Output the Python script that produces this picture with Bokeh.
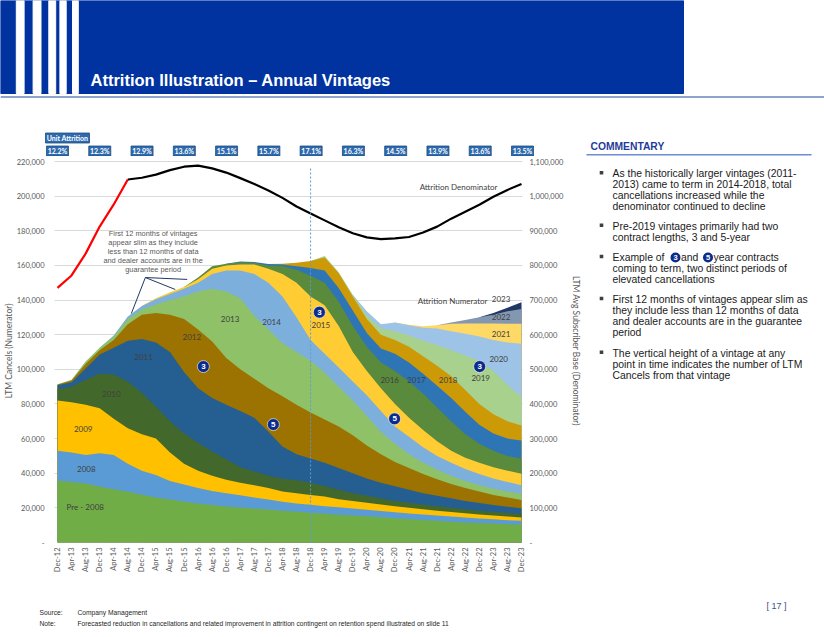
import numpy as np
from bokeh.plotting import figure
from bokeh.models import Range1d, LinearAxis, FixedTicker, NumeralTickFormatter
from bokeh.layouts import column, row
from bokeh.embed import file_html
from bokeh.resources import INLINE
from bokeh.core.properties import value

# ---------------------------------------------------------------- data
tick_labels = ["Dec-12", "Apr-13", "Aug-13", "Dec-13", "Apr-14", "Aug-14", "Dec-14", "Apr-15",
               "Aug-15", "Dec-15", "Apr-16", "Aug-16", "Dec-16", "Apr-17", "Aug-17", "Dec-17",
               "Apr-18", "Aug-18", "Dec-18", "Apr-19", "Aug-19", "Dec-19", "Apr-20", "Aug-20",
               "Dec-20", "Apr-21", "Aug-21", "Dec-21", "Apr-22", "Aug-22", "Dec-22", "Apr-23",
               "Aug-23", "Dec-23"]
month_index = [0, 4, 8, 12, 16, 20, 24, 28, 32, 36, 40, 44, 48, 52, 56, 60, 64, 68, 72, 76,
               80, 84, 88, 92, 96, 100, 104, 108, 112, 116, 120, 124, 128, 132]

# LTM cancels: top of each vintage's band in the stack (thousands), read at each tick
stack_top_pre2008 = [35.8, 35.0, 34.0, 32.2, 30.8, 29.3, 27.6, 26.0, 24.8, 23.6, 22.5, 21.6, 20.8, 20.2,
                     19.7, 19.0, 18.4, 17.8, 17.2, 16.6, 16.0, 15.6, 15.1, 14.6, 14.0, 13.5, 13.0, 12.5,
                     12.0, 11.6, 11.2, 10.9, 10.6, 10.3]
stack_top_2008 = [53.0, 52.0, 50.5, 51.5, 50.5, 45.5, 41.5, 39.0, 35.5, 33.5, 31.5, 29.8, 28.5, 27.3,
                  26.0, 24.8, 23.5, 22.5, 21.8, 21.0, 20.3, 19.6, 18.9, 18.2, 17.5, 16.8, 16.2, 15.6,
                  15.0, 14.4, 13.9, 13.4, 12.9, 12.5]
stack_top_2009 = [82.0, 81.0, 79.5, 77.5, 71.5, 66.0, 62.5, 60.0, 52.0, 45.5, 41.5, 38.5, 36.3, 34.5,
                  33.0, 31.5, 29.5, 28.5, 27.5, 26.5, 25.0, 24.0, 23.0, 22.0, 21.0, 20.0, 19.2, 18.4,
                  17.6, 16.9, 16.2, 15.6, 15.0, 14.5]
stack_top_2010 = [88.5, 90.0, 94.0, 97.5, 97.0, 93.0, 86.5, 78.5, 70.0, 63.0, 57.5, 52.5, 48.0, 43.5,
                  41.0, 38.5, 36.8, 36.0, 34.5, 32.5, 30.5, 28.5, 27.0, 25.5, 24.0, 23.0, 22.0, 21.0,
                  20.0, 19.2, 18.4, 17.7, 17.0, 16.5]
stack_top_2011 = [90.8, 92.5, 100.5, 108.5, 112.5, 116.5, 117.5, 115.5, 110.0, 98.5, 89.0, 83.5, 79.5,
                  76.0, 72.0, 64.0, 55.5, 51.0, 48.5, 46.0, 43.0, 40.0, 37.0, 34.5, 32.5, 30.5, 28.5,
                  27.0, 25.5, 24.0, 22.8, 21.7, 20.7, 19.8]
stack_top_2012 = [91.3, 93.5, 103.0, 111.0, 117.0, 126.0, 131.5, 132.5, 131.5, 129.0, 123.0, 116.0,
                  106.5, 100.0, 94.5, 89.0, 84.5, 79.5, 75.0, 71.0, 67.0, 62.0, 56.0, 51.0, 46.5, 43.0,
                  39.5, 36.5, 33.8, 31.5, 29.5, 27.5, 26.0, 24.5]
stack_top_2013 = [91.3, 94.0, 104.5, 112.5, 119.0, 129.0, 134.5, 137.5, 140.0, 142.0, 145.0, 146.5,
                  145.0, 141.0, 131.0, 123.0, 115.0, 110.0, 105.0, 98.0, 90.0, 82.0, 73.0, 64.0, 57.0,
                  51.0, 46.0, 42.0, 38.5, 35.5, 33.0, 31.0, 29.5, 28.0]
stack_top_2014 = [112.5, 119.5, 130.5, 136.5, 140.5, 143.5, 146.5, 150.0, 155.0, 157.0, 157.0, 155.0,
                  150.0, 142.0, 130.0, 117.0, 109.0, 101.0, 93.0, 85.0, 76.0, 67.0, 61.0, 55.0, 50.0,
                  46.0, 42.5, 39.5, 37.0, 35.0, 33.0]
stack_top_2015 = [136.5, 141.0, 144.5, 147.5, 152.0, 158.0, 160.0, 160.5, 160.5, 158.0, 155.0, 150.0,
                  142.0, 137.0, 125.0, 110.0, 99.0, 89.0, 80.0, 72.0, 65.0, 58.5, 53.0, 49.0, 46.0,
                  43.5, 41.5, 39.7]
stack_top_2016 = [147.5, 153.0, 159.5, 161.0, 161.8, 161.5, 160.0, 159.5, 157.5, 154.0, 150.0, 139.0,
                  125.0, 113.0, 104.0, 99.0, 93.0, 86.0, 78.0, 70.0, 62.5, 57.0, 53.0, 50.0, 48.3]
stack_top_2017 = [161.0, 162.3, 162.0, 160.8, 160.5, 159.5, 158.5, 157.0, 147.0, 134.0, 121.0, 112.0,
                  109.0, 104.0, 97.5, 90.5, 83.5, 75.5, 68.0, 63.0, 60.0, 58.9]
stack_top_2018 = [160.8, 161.0, 161.5, 162.5, 164.5, 155.5, 142.0, 129.0, 120.0, 117.0, 113.0, 107.5,
                  102.0, 96.0, 88.0, 80.0, 74.0, 70.0, 67.6]
stack_top_2019 = [162.5, 165.5, 156.0, 143.0, 131.0, 123.5, 122.0, 119.5, 116.5, 114.0, 111.0, 108.0,
                  105.0, 99.0, 91.0, 84.0]
stack_top_2020 = [143.0, 133.5, 126.0, 127.0, 125.5, 124.0, 123.5, 122.0, 120.5, 119.0, 117.0, 115.5,
                  114.7]
stack_top_2021 = [127.0, 125.8, 124.8, 125.5, 126.3, 126.5, 126.5, 126.5, 126.3, 126.3]
stack_top_2022 = [125.5, 127.0, 128.5, 130.0, 131.5, 133.5, 134.9]
stack_top_2023 = [130.0, 132.5, 135.5, 138.7]

vintage_names = ["Pre-2008", "2008", "2009", "2010", "2011", "2012", "2013", "2014", "2015", "2016",
                 "2017", "2018", "2019", "2020", "2021", "2022", "2023"]
vintage_first_tick = ["Dec-12", "Dec-12", "Dec-12", "Dec-12", "Dec-12", "Dec-12", "Dec-12", "Dec-13",
                      "Dec-14", "Dec-15", "Dec-16", "Dec-17", "Dec-18", "Dec-19", "Dec-20", "Dec-21",
                      "Dec-22"]

# LTM average subscriber base (thousands): history in red, forecast in black
denominator_hist = [735, 771, 834, 912, 976, 1048]
denominator_hist_start = "Dec-12"
denominator_fcst = [1048, 1053, 1062, 1075, 1085, 1088, 1080, 1068, 1052, 1035, 1016, 995, 970, 950,
                    930, 910, 893, 881, 876, 878, 882, 895, 912, 935, 955, 975, 998, 1018, 1035]
denominator_fcst_start = "Aug-14"

attrition_ticks = ["Dec-12", "Dec-13", "Dec-14", "Dec-15", "Dec-16", "Dec-17", "Dec-18", "Dec-19",
                   "Dec-20", "Dec-21", "Dec-22", "Dec-23"]
unit_attrition = ["12.2%", "12.3%", "12.9%", "13.6%", "15.1%", "15.7%", "17.1%", "16.3%", "14.5%",
                  "13.9%", "13.6%", "13.5%"]

# ---------------------------------------------------------------- styles / geometry
colors = ["#70AD47", "#5B9BD5", "#FFC000", "#43682B", "#255E91", "#9C7300", "#8FC268", "#7DAFDD",
          "#FFCD33", "#5A8A3C", "#2E75B6", "#CC9A06", "#A9D18E", "#9DC3E6", "#FFD966", "#8497B0",
          "#203864"]
stack_tops = [stack_top_pre2008, stack_top_2008, stack_top_2009, stack_top_2010, stack_top_2011,
              stack_top_2012, stack_top_2013, stack_top_2014, stack_top_2015, stack_top_2016,
              stack_top_2017, stack_top_2018, stack_top_2019, stack_top_2020, stack_top_2021,
              stack_top_2022, stack_top_2023]
K = 1000
CF = "Lato"
SF = "Liberation Sans"
GRAY = "#595959"

PAGE_W = 824
HEAD_H = 156
MID_H = 434
FOOT_H = 47
CHART_W = 584
FRAME_L, FRAME_R = 54, 525          # pixel edges of the plot frame
FRAME_T, FRAME_B = 159, 542
FIRST_TICK_PX, LAST_TICK_PX = 57, 522
px_per_month = (LAST_TICK_PX - FIRST_TICK_PX) / (month_index[-1] - month_index[0])
x_start = (FRAME_L - FIRST_TICK_PX) / px_per_month
x_end = (FRAME_R - FIRST_TICK_PX) / px_per_month
px_per_unit = (FRAME_B - 161) / 220000.0     # 220,000 gridline sits at y=161
y_end = (FRAME_B - FRAME_T) / px_per_unit


def months_from(label):
    return month_index[tick_labels.index(label):]


# ---------------------------------------------------------------- chart
p = figure(width=CHART_W, height=MID_H, x_range=Range1d(x_start, x_end), y_range=Range1d(0, y_end),
           output_backend="svg", toolbar_location=None,
           min_border_left=FRAME_L, min_border_right=CHART_W - FRAME_R,
           min_border_top=FRAME_T - HEAD_H, min_border_bottom=HEAD_H + MID_H - FRAME_B)
p.outline_line_color = None
p.background_fill_color = "white"
p.border_fill_color = "white"
p.xgrid.visible = False
p.ygrid.grid_line_color = "#D9D9D9"
p.ygrid.grid_line_width = 1
try:
    p.ygrid.cross_bounds = ((53 - FIRST_TICK_PX) / px_per_month, (523 - FIRST_TICK_PX) / px_per_month)
except Exception:
    pass

# stacked vintages: paint from the top layer down so each band shows between neighbours
for name, start, tops, col in reversed(list(zip(vintage_names, vintage_first_tick, stack_tops, colors))):
    p.varea(x=months_from(start), y1=0, y2=[v * K for v in tops], fill_color=col)

p.extra_y_ranges = {"den": Range1d(0, y_end * 5)}
p.line(months_from(denominator_hist_start)[:len(denominator_hist)], [v * K for v in denominator_hist],
       y_range_name="den", line_color="#FF0000", line_width=2.2)
p.line(months_from(denominator_fcst_start), [v * K for v in denominator_fcst],
       y_range_name="den", line_color="black", line_width=2.2)

# Dec-18 marker
dec18 = month_index[tick_labels.index("Dec-18")]
p.segment(x0=[dec18], y0=[0], x1=[dec18], y1=[217000], line_color="#5B9BD5", line_width=1,
          line_dash="2 2")

# axes
p.xaxis.ticker = FixedTicker(ticks=month_index)
p.xaxis.major_label_overrides = {m: t for m, t in zip(month_index, tick_labels)}
p.xaxis.major_label_orientation = np.pi / 2
p.xaxis.major_label_text_font = CF
p.xaxis.major_label_text_font_size = "7.5px"
p.xaxis.major_label_text_color = GRAY
p.xaxis.axis_line_color = None
p.xaxis.major_tick_line_color = None
p.xaxis.minor_tick_line_color = None
p.xaxis.major_tick_out = 0
p.xaxis.major_tick_in = 0
p.xaxis.major_label_standoff = 5

left_ticks = [0, 20000, 40000, 60000, 80000, 100000, 120000, 140000, 160000, 180000, 200000, 220000]
p.yaxis.ticker = FixedTicker(ticks=left_ticks)
p.yaxis.formatter = NumeralTickFormatter(format="0,0")
p.yaxis.major_label_overrides = {0: "-"}
p.yaxis.major_label_text_font = CF
p.yaxis.major_label_text_font_size = "7.5px"
p.yaxis.major_label_text_color = GRAY
p.yaxis.axis_line_color = None
p.yaxis.major_tick_line_color = None
p.yaxis.minor_tick_line_color = None
p.yaxis.major_tick_out = 0
p.yaxis.major_tick_in = 0
p.yaxis.major_label_standoff = 10
p.yaxis.axis_label = "LTM Cancels (Numerator)"
p.yaxis.axis_label_text_font = CF
p.yaxis.axis_label_text_font_size = "8.5px"
p.yaxis.axis_label_text_font_style = "normal"
p.yaxis.axis_label_text_color = GRAY
p.yaxis.axis_label_standoff = 0

right_ticks = [0, 100000, 200000, 300000, 400000, 500000, 600000, 700000, 800000, 900000, 1000000, 1100000]
ax_r = LinearAxis(y_range_name="den", ticker=FixedTicker(ticks=right_ticks),
                  formatter=NumeralTickFormatter(format="0,0"))
ax_r.major_label_overrides = {0: "-"}
ax_r.major_label_text_font = CF
ax_r.major_label_text_font_size = "7.5px"
ax_r.major_label_text_color = GRAY
ax_r.axis_line_color = None
ax_r.major_tick_line_color = None
ax_r.minor_tick_line_color = None
ax_r.major_tick_out = 0
ax_r.major_tick_in = 0
ax_r.major_label_standoff = 5
ax_r.axis_label = "LTM Avg Subscriber Base (Denominator)"
ax_r.axis_label_text_font = CF
ax_r.axis_label_text_font_size = "8.5px"
ax_r.axis_label_text_font_style = "normal"
ax_r.axis_label_text_color = GRAY
ax_r.axis_label_standoff = 5
p.add_layout(ax_r, "right")

# vintage labels
vl_text = ["Pre - 2008", "2008", "2009", "2010", "2011", "2012", "2013", "2014", "2015", "2016", "2017",
           "2018", "2019", "2020", "2021", "2022", "2023"]
vl_x = [7.9, 8.2, 7.3, 15.3, 24.5, 38.2, 49.1, 60.9, 74.9, 94.5, 102.1, 111.1, 120.4, 125.5, 126.2, 126.2, 126.2]
vl_y = [20.4, 42.2, 65.6, 85.9, 107.0, 118.9, 129.2, 127.6, 125.7, 94.1, 94.1, 94.1, 94.9, 105.7, 120.5,
        130.1, 140.5]
p.text(x=vl_x, y=[v * K for v in vl_y], text=vl_text, text_font=value(CF), text_font_size="8px",
       text_color="#404040", text_align="center", text_baseline="middle")

p.text(x=[114.1, 112.4], y=[205200, 139700], text=["Attrition Denominator", "Attrition Numerator"],
       text_font=value(CF), text_font_size="8px", text_color="#404040", text_align="center",
       text_baseline="middle")

# contract-term badges
badge_x = [41.5, 61.4, 74.5, 95.9, 120.1]
badge_y = [101.6, 68.1, 133.0, 71.4, 101.6]
badge_t = ["3", "5", "3", "5", "3"]
p.scatter(badge_x, [v * K for v in badge_y], size=12, fill_color="#0B2C8C", line_color="white",
          line_width=0.6)
p.text(x=badge_x, y=[v * K for v in badge_y], text=badge_t, text_font=value(SF), text_font_size="8px",
       text_font_style="bold", text_color="white", text_align="center", text_baseline="middle")

# call-out
callout = ["First 12 months of vintages", "appear slim as they include", "less than 12 months of data",
           "and dealer accounts are in the", "guarantee period"]
callout_y = [178.4, 173.2, 168.0, 162.8, 157.6]
p.text(x=[27.2] * 5, y=[v * K for v in callout_y], text=callout, text_font=value(SF),
       text_font_size="7.4px", text_color=GRAY, text_align="center", text_baseline="middle")
p.segment(x0=[25.0, 25.0, 25.0], y0=[153000] * 3, x1=[21.0, 33.5, 36.9],
          y1=[132200, 146100, 151900], line_color="#1F3864", line_width=1)

# ---------------------------------------------------------------- header (+ unit attrition row)
h = figure(width=PAGE_W, height=HEAD_H, x_range=Range1d(0, PAGE_W), y_range=Range1d(HEAD_H, 0),
           output_backend="svg", toolbar_location=None, x_axis_location=None,
           y_axis_location=None, min_border=0)
h.outline_line_color = None
h.grid.visible = False
h.extra_x_ranges = {"month": Range1d((0 - FIRST_TICK_PX) / px_per_month,
                                     (PAGE_W - FIRST_TICK_PX) / px_per_month)}
h.quad(left=[0], right=[683], top=[0], bottom=[93], color="#0033A0")
stripe_l = [15.8, 32.6, 48.3, 59.4, 72.0]
stripe_r = [23.6, 40.5, 55.2, 65.7, 77.8]
h.quad(left=stripe_l, right=stripe_r, top=0, bottom=93, color="white")
h.segment(x0=[0], y0=[96.5], x1=[PAGE_W], y1=[96.5], line_color="#8EA4CC", line_width=2)
h.text(x=[90], y=[79], text=["Attrition Illustration \u2013 Annual Vintages"], text_font=value(SF),
       text_font_size="16.5px", text_font_style="bold", text_color="white", text_baseline="middle")

att_x = [month_index[tick_labels.index(t)] for t in attrition_ticks]
h.rect(x=att_x, y=[150.5] * len(att_x), width=22, height=10, width_units="screen",
       height_units="screen", x_range_name="month", fill_color="#2E6AAF", line_color="#1F4E79",
       line_width=0.8)
h.text(x=att_x, y=[150.8] * len(att_x), text=unit_attrition, x_range_name="month",
       text_font=value(CF), text_font_size="7px", text_font_style="bold", text_color="white",
       text_align="center", text_baseline="middle")
h.rect(x=[67], y=[137.5], width=44, height=10, fill_color="#2E6AAF", line_color="#1F4E79",
       line_width=0.8)
h.text(x=[67], y=[137.8], text=["Unit Attrition"], text_font=value(CF), text_font_size="7px",
       text_font_style="bold", text_color="white", text_align="center", text_baseline="middle")

# commentary heading (sits in the header strip)
h.text(x=[590], y=[145.5], text=["COMMENTARY"], text_font=value(SF), text_font_size="10.3px",
       text_font_style="bold", text_color="#1F3C99", text_baseline="middle")
h.segment(x0=[586], y0=[154.3], x1=[811], y1=[154.3], line_color="#6C8CD5", line_width=1.5)

# ---------------------------------------------------------------- commentary
c = figure(width=PAGE_W - CHART_W, height=MID_H, x_range=Range1d(CHART_W, PAGE_W),
           y_range=Range1d(HEAD_H + MID_H, HEAD_H),
           output_backend="svg", toolbar_location=None, x_axis_location=None,
           y_axis_location=None, min_border=0)
c.outline_line_color = None
c.grid.visible = False
lines = ["As the historically larger vintages (2011-", "2013) came to term in 2014-2018, total",
         "cancellations increased while the", "denominator continued to decline",
         "Pre-2019 vintages primarily had two", "contract lengths, 3 and 5-year",
         "Example of", "coming to term, two distinct periods of", "elevated cancellations",
         "First 12 months of vintages appear slim as", "they include less than 12 months of data",
         "and dealer accounts are in the guarantee", "period",
         "The vertical height of a vintage at any", "point in time indicates the number of LTM",
         "Cancels from that vintage"]
lines_y = [172, 184.4, 196.8, 209.2, 231.5, 243.9, 267, 279.4, 291.8, 314.5, 326.9, 339.3, 351.7,
           375.5, 387.9, 400.3]
c.text(x=[612] * len(lines), y=lines_y, text=lines, text_font=value(SF), text_font_size="10.4px",
       text_color="#1A1A1A", text_baseline="middle")
c.text(x=[680.5, 713], y=[267, 267], text=["and", "year contracts"], text_font=value(SF),
       text_font_size="10.4px", text_color="#1A1A1A", text_baseline="middle")
c.scatter([675, 707.5], [267, 267], size=10, fill_color="#0B2C8C", line_color=None)
c.text(x=[675, 707.5], y=[267.3, 267.3], text=["3", "5"], text_font=value(SF), text_font_size="7.5px",
       text_font_style="bold", text_color="white", text_align="center", text_baseline="middle")
c.scatter([601] * 5, [171, 230.5, 266, 313.5, 374.5], marker="square", size=3.6,
          fill_color="#404040", line_color=None)

# ---------------------------------------------------------------- footer
f = figure(width=PAGE_W, height=FOOT_H, x_range=Range1d(0, PAGE_W),
           y_range=Range1d(HEAD_H + MID_H + FOOT_H, HEAD_H + MID_H),
           output_backend="svg", toolbar_location=None, x_axis_location=None,
           y_axis_location=None, min_border=0)
f.outline_line_color = None
f.grid.visible = False
f.text(x=[39, 77, 39, 77], y=[612, 612, 623, 623],
       text=["Source:", "Company Management", "Note:",
             "Forecasted reduction in cancellations and related improvement in attrition contingent on retention spend illustrated on slide 11"],
       text_font=value(SF), text_font_size="6.7px", text_color="#262626", text_baseline="middle")
f.text(x=[766], y=[605], text=["[ 17 ]"], text_font=value(SF), text_font_size="9px",
       text_color="#3F4F7F", text_baseline="middle")

layout = column(h, row(p, c), f)
open("out.html", "w").write(file_html(layout, INLINE))
